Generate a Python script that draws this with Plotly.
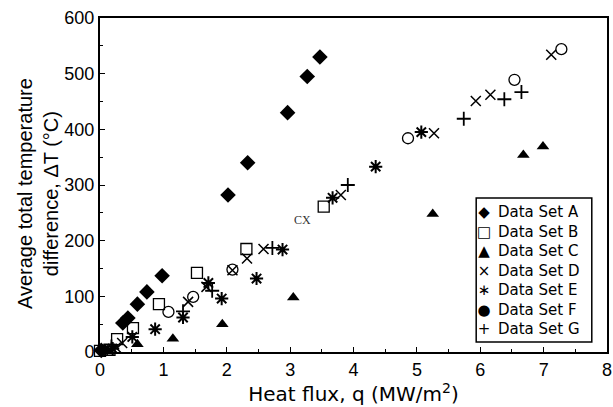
import plotly.graph_objects as go

# Data
a_x = [0.02, 0.36, 0.44, 0.59, 0.74, 0.98, 2.02, 2.33, 2.96, 3.27, 3.47]
a_y = [3, 52, 61, 86, 108, 137, 282, 340, 430, 495, 530]

b_x = [0.0, 0.15, 0.27, 0.52, 0.93, 1.53, 2.31, 3.53]
b_y = [2, 4, 23, 43, 86, 142, 185, 261]

c_x = [0.12, 0.59, 1.15, 1.93, 3.05, 5.25, 6.68, 6.99]
c_y = [3, 14, 24, 50, 98, 248, 354, 369]

d_x = [0.25, 0.35, 1.39, 1.68, 2.09, 2.32, 2.58, 3.80, 5.27, 5.93, 6.16, 7.12]
d_y = [8, 16, 90, 117, 147, 168, 185, 282, 393, 451, 462, 534]

e_x = [0.2, 0.51, 0.87, 1.31, 1.71, 1.92, 2.47, 2.88, 3.67, 4.35, 5.07]
e_y = [6, 27, 41, 62, 124, 96, 132, 184, 277, 333, 395]

f_x = [0.05, 1.08, 1.47, 2.09, 4.86, 6.54, 7.28]
f_y = [2, 72, 99, 148, 384, 489, 544]

g_x = [0.18, 1.31, 1.77, 2.72, 3.91, 5.74, 6.38, 6.65]
g_y = [10, 73, 110, 187, 300, 419, 454, 467]

x_ticks = [0, 1, 2, 3, 4, 5, 6, 7, 8]
y_ticks = [0, 100, 200, 300, 400, 500, 600]

legend_names = ["Data Set A", "Data Set B", "Data Set C", "Data Set D",
                "Data Set E", "Data Set F", "Data Set G"]
legend_glyphs = ["\u25c6", "\u25a1", "\u25b2", "\u00d7", "\u2217", "\u25cf", "+"]

FONT = "Liberation Sans, Arial, sans-serif"
WIDE = "DejaVu Sans, sans-serif"

series = [
    (legend_names[0], a_x, a_y, "diamond", 12, 0),
    (legend_names[1], b_x, b_y, "square-open", 11, 1.3),
    (legend_names[2], c_x, c_y, "triangle-up", 11, 0),
    (legend_names[3], d_x, d_y, "x-thin-open", 10, 1.5),
    (legend_names[4], e_x, e_y, "asterisk-open", 11, 2),
    (legend_names[5], f_x, f_y, "circle-open", 11, 1.3),
    (legend_names[6], g_x, g_y, "cross-thin-open", 10, 1.8),
]

fig = go.Figure()
for name, xs, ys, sym, size, lw in series:
    fig.add_trace(go.Scatter(
        x=xs, y=ys, mode="markers", name=name, cliponaxis=False,
        marker=dict(symbol=sym, size=size, color="black",
                    line=dict(color="black", width=lw)),
    ))

# scan artefact text in the reference
fig.add_annotation(x=3.2, y=237, text="CX", showarrow=False,
                   font=dict(family="Liberation Serif, serif", size=12, color="#333"))

# y-axis title placed as an annotation to sit close to the tick labels
fig.add_annotation(xref="paper", yref="paper", x=0, xshift=-62, y=0.473,
                   xanchor="center", yanchor="middle", textangle=-90,
                   showarrow=False,
                   text="Average total temperature<br>difference, \u0394T (\u00b0C)",
                   font=dict(family=FONT, size=20, color="black"))

# legend box (drawn manually to match the compact look)
fig.add_shape(type="rect", xref="paper", yref="paper",
              x0=0.742, x1=0.970, y0=0.030, y1=0.461,
              line=dict(color="black", width=1.5), fillcolor="white", layer="above")
fig.add_annotation(xref="paper", yref="paper", x=0.757, y=0.245,
                   xanchor="center", yanchor="middle", align="center",
                   showarrow=False, text="<br>".join(legend_glyphs),
                   font=dict(family=WIDE, size=15, color="black"))
fig.add_annotation(xref="paper", yref="paper", x=0.781, y=0.245,
                   xanchor="left", yanchor="middle", align="left",
                   showarrow=False, text="<br>".join(legend_names),
                   font=dict(family=WIDE, size=15, color="black"))

fig.update_layout(
    width=613, height=407,
    margin=dict(l=100, r=6, t=18, b=55, autoexpand=False),
    paper_bgcolor="white", plot_bgcolor="white",
    font=dict(family=FONT, color="black"),
    showlegend=False,
)
fig.update_xaxes(
    range=[0, 8], tickvals=x_ticks, ticktext=[str(v) for v in x_ticks],
    showgrid=False, zeroline=False, automargin=False,
    showline=True, linecolor="black", linewidth=2, mirror=True,
    ticks="inside", ticklen=5, tickcolor="black",
    minor=dict(ticks="inside", ticklen=3, dtick=0.5, tickcolor="black"),
    tickfont=dict(family=FONT, size=18, color="black"),
    title=dict(text="Heat flux, q (MW/m<sup>2</sup>)",
               font=dict(family=WIDE, size=20, color="black"), standoff=2),
)
fig.update_yaxes(
    range=[0, 600], tickvals=y_ticks, ticktext=[str(v) for v in y_ticks],
    showgrid=False, zeroline=False, automargin=False,
    showline=True, linecolor="black", linewidth=2, mirror=True,
    ticks="inside", ticklen=5, tickcolor="black",
    minor=dict(ticks="inside", ticklen=3, dtick=50, tickcolor="black"),
    tickfont=dict(family=FONT, size=18, color="black"),
)

fig.write_html(
    "out.html",
    config={"displayModeBar": False},
    post_script="document.body.style.margin='0';document.body.style.overflow='hidden';",
)
